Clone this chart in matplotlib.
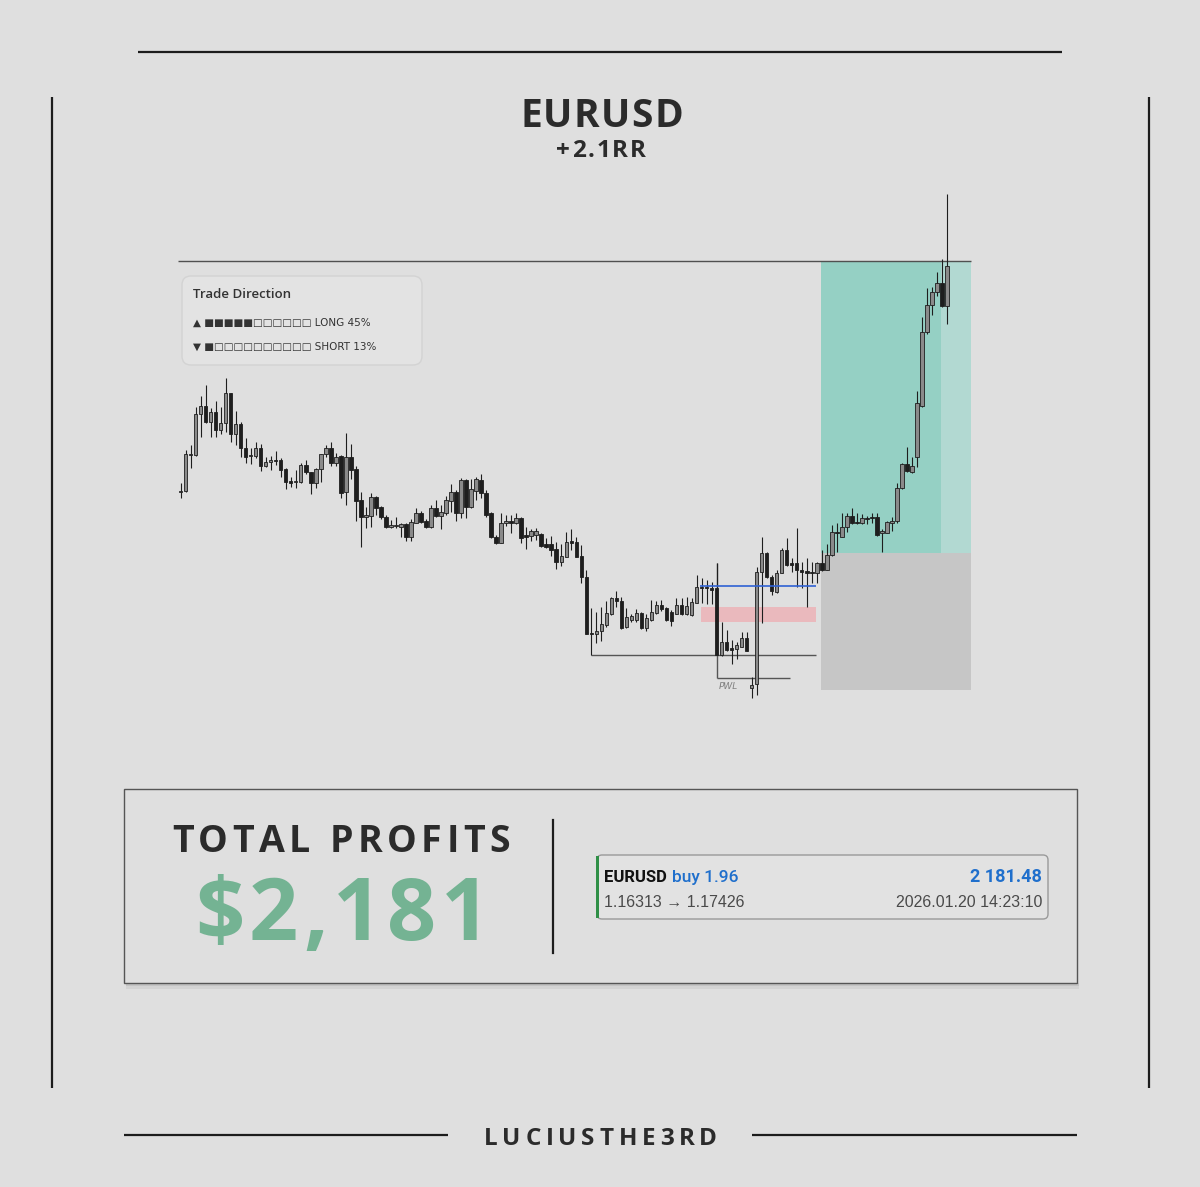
import matplotlib
matplotlib.use("Agg")
import matplotlib.pyplot as plt
from matplotlib.patches import Rectangle, FancyBboxPatch
import numpy as np

# ---------------- data ----------------
symbol = "EURUSD"
rr_label = "+2.1RR"
author = "LUCIUSTHE3RD"
profit_title = "TOTAL PROFITS"
profit_value = "$2,181"

opens = [1.16557, 1.16561, 1.16705, 1.16705, 1.16869, 1.16901, 1.16837, 1.16877, 1.16805, 1.16833,
         1.16953, 1.16789, 1.16829, 1.16733, 1.16701, 1.16701, 1.16733, 1.16661, 1.16677, 1.16685,
         1.16685, 1.16649, 1.16601, 1.16597, 1.16597, 1.16665, 1.16637, 1.16593, 1.16649, 1.16709,
         1.16733, 1.16673, 1.16701, 1.16557, 1.16697, 1.16649, 1.16525, 1.16457, 1.16461, 1.16537,
         1.16497, 1.16457, 1.16417, 1.16421, 1.16417, 1.16429, 1.16377, 1.16433, 1.16473, 1.16441,
         1.16417, 1.16493, 1.16461, 1.16473, 1.16521, 1.16557, 1.16473, 1.16605, 1.16497, 1.16561,
         1.16605, 1.16553, 1.16473, 1.16377, 1.16353, 1.16433, 1.16441, 1.16433, 1.16453, 1.16385,
         1.16381, 1.16385, 1.16389, 1.16349, 1.16349, 1.16329, 1.16277, 1.16297, 1.16361, 1.16357,
         1.16301, 1.16217, 1.15993, 1.15989, 1.16001, 1.16025, 1.16069, 1.16133, 1.16121, 1.16017,
         1.16045, 1.16045, 1.16073, 1.16013, 1.16045, 1.16073, 1.16105, 1.16093, 1.16077, 1.16069,
         1.16105, 1.16069, 1.16065, 1.16113, 1.16177, 1.16177, 1.16173, 1.16173, 1.15905, 1.15957,
         1.15933, 1.15929, 1.15937, 1.15973, 1.15773, 1.15789, 1.16237, 1.16313, 1.16217, 1.16157,
         1.16233, 1.16325, 1.16273, 1.16273, 1.16245, 1.16241, 1.16237, 1.16233, 1.16273, 1.16245,
         1.16305, 1.16397, 1.16377, 1.16417, 1.16461, 1.16437, 1.16433, 1.16453, 1.16457, 1.16457,
         1.16393, 1.16393, 1.16433, 1.16441, 1.16573, 1.16669, 1.16637, 1.16697, 1.16901, 1.17197,
         1.17305, 1.17357, 1.17393, 1.17301]
closes = [1.16561, 1.16709, 1.16709, 1.16869, 1.16901, 1.16837, 1.16877, 1.16805, 1.16833, 1.16953,
          1.16789, 1.16829, 1.16733, 1.16697, 1.16705, 1.16733, 1.16661, 1.16677, 1.16685, 1.16681,
          1.16645, 1.16597, 1.16593, 1.16601, 1.16665, 1.16637, 1.16593, 1.16649, 1.16709, 1.16733,
          1.16673, 1.16697, 1.16553, 1.16697, 1.16645, 1.16521, 1.16457, 1.16465, 1.16537, 1.16493,
          1.16457, 1.16417, 1.16425, 1.16425, 1.16429, 1.16377, 1.16437, 1.16473, 1.16437, 1.16417,
          1.16493, 1.16461, 1.16477, 1.16525, 1.16557, 1.16473, 1.16605, 1.16497, 1.16569, 1.16609,
          1.16553, 1.16465, 1.16377, 1.16353, 1.16433, 1.16441, 1.16433, 1.16453, 1.16373, 1.16377,
          1.16401, 1.16401, 1.16341, 1.16337, 1.16325, 1.16277, 1.16301, 1.16357, 1.16353, 1.16297,
          1.16217, 1.15989, 1.15989, 1.16001, 1.16029, 1.16073, 1.16133, 1.16121, 1.16013, 1.16057,
          1.16061, 1.16073, 1.16013, 1.16053, 1.16077, 1.16105, 1.16089, 1.16045, 1.16041, 1.16105,
          1.16069, 1.16101, 1.16117, 1.16177, 1.16173, 1.16173, 1.16165, 1.15905, 1.15957, 1.15925,
          1.15925, 1.15945, 1.15973, 1.15921, 1.15785, 1.16237, 1.16313, 1.16217, 1.16161, 1.16233,
          1.16325, 1.16265, 1.16265, 1.16245, 1.16237, 1.16233, 1.16233, 1.16273, 1.16245, 1.16305,
          1.16397, 1.16393, 1.16417, 1.16461, 1.16433, 1.16433, 1.16453, 1.16449, 1.16453, 1.16385,
          1.16401, 1.16437, 1.16441, 1.16573, 1.16669, 1.16641, 1.16661, 1.16913, 1.17197, 1.17305,
          1.17357, 1.17393, 1.17301, 1.17461]
highs = [1.16593, 1.16725, 1.16745, 1.16897, 1.16941, 1.16985, 1.16893, 1.16921, 1.16897, 1.17013,
         1.16953, 1.16881, 1.16837, 1.16773, 1.16733, 1.16757, 1.16749, 1.16697, 1.16701, 1.16721,
         1.16693, 1.16653, 1.16617, 1.16645, 1.16673, 1.16685, 1.16637, 1.16653, 1.16709, 1.16745,
         1.16757, 1.16713, 1.16705, 1.16793, 1.16749, 1.16661, 1.16557, 1.16497, 1.16553, 1.16541,
         1.16501, 1.16465, 1.16445, 1.16457, 1.16433, 1.16433, 1.16449, 1.16493, 1.16481, 1.16449,
         1.16505, 1.16525, 1.16505, 1.16541, 1.16589, 1.16565, 1.16613, 1.16609, 1.16609, 1.16617,
         1.16629, 1.16565, 1.16477, 1.16385, 1.16473, 1.16465, 1.16465, 1.16473, 1.16457, 1.16417,
         1.16409, 1.16413, 1.16393, 1.16373, 1.16381, 1.16357, 1.16349, 1.16397, 1.16409, 1.16377,
         1.16345, 1.16245, 1.16093, 1.16077, 1.16097, 1.16121, 1.16137, 1.16161, 1.16137, 1.16093,
         1.16069, 1.16089, 1.16077, 1.16069, 1.16125, 1.16121, 1.16125, 1.16097, 1.16085, 1.16133,
         1.16133, 1.16137, 1.16133, 1.16225, 1.16213, 1.16205, 1.16197, 1.16273, 1.16037, 1.16005,
         1.15965, 1.15957, 1.15997, 1.15997, 1.15817, 1.16257, 1.16377, 1.16317, 1.16225, 1.16245,
         1.16333, 1.16373, 1.16293, 1.16413, 1.16277, 1.16293, 1.16277, 1.16277, 1.16325, 1.16349,
         1.16425, 1.16433, 1.16473, 1.16473, 1.16493, 1.16473, 1.16469, 1.16461, 1.16473, 1.16473,
         1.16409, 1.16441, 1.16457, 1.16593, 1.16673, 1.16737, 1.16697, 1.16961, 1.17257, 1.17373,
         1.17377, 1.17437, 1.17489, 1.17749]
lows = [1.16533, 1.16557, 1.16653, 1.16701, 1.16777, 1.16833, 1.16777, 1.16777, 1.16789, 1.16797,
        1.16757, 1.16745, 1.16697, 1.16673, 1.16669, 1.16693, 1.16641, 1.16657, 1.16645, 1.16665,
        1.16617, 1.16569, 1.16577, 1.16573, 1.16593, 1.16629, 1.16549, 1.16573, 1.16597, 1.16697,
        1.16661, 1.16661, 1.16533, 1.16505, 1.16609, 1.16441, 1.16337, 1.16413, 1.16417, 1.16465,
        1.16449, 1.16413, 1.16413, 1.16413, 1.16377, 1.16361, 1.16361, 1.16433, 1.16433, 1.16413,
        1.16413, 1.16457, 1.16409, 1.16465, 1.16477, 1.16441, 1.16453, 1.16453, 1.16493, 1.16525,
        1.16533, 1.16457, 1.16373, 1.16349, 1.16353, 1.16421, 1.16393, 1.16429, 1.16353, 1.16329,
        1.16361, 1.16365, 1.16337, 1.16333, 1.16301, 1.16249, 1.16261, 1.16297, 1.16325, 1.16297,
        1.16193, 1.15989, 1.15905, 1.15953, 1.15961, 1.16017, 1.16065, 1.16097, 1.16009, 1.16013,
        1.16037, 1.16037, 1.16009, 1.16001, 1.16041, 1.16069, 1.16081, 1.16041, 1.16021, 1.16069,
        1.16065, 1.16065, 1.16061, 1.16113, 1.16113, 1.16109, 1.16109, 1.15905, 1.15901, 1.15921,
        1.15869, 1.15889, 1.15937, 1.15921, 1.15733, 1.15745, 1.16033, 1.16213, 1.16145, 1.16153,
        1.16233, 1.16261, 1.16237, 1.16177, 1.16173, 1.16097, 1.16193, 1.16193, 1.16241, 1.16245,
        1.16301, 1.16317, 1.16377, 1.16397, 1.16429, 1.16429, 1.16429, 1.16429, 1.16433, 1.16381,
        1.16317, 1.16393, 1.16401, 1.16433, 1.16569, 1.16637, 1.16633, 1.16657, 1.16897, 1.17189,
        1.17265, 1.17341, 1.17297, 1.17229]

tp_price = 1.17481
entry_price = 1.16313
sl_price = 1.15765
box_bars = [127.8, 151.8, 157.8]          # start, fade split, end (bar index)
tp_line_from = -0.5
blue_level, blue_bars = 1.16181, [103.7, 126.9]
pink_zone, pink_bars = [1.16037, 1.16097], [103.9, 126.9]
low_level, low_bars = 1.15905, [81.9, 126.9]
pwl_level, pwl_top, pwl_bars = 1.15813, 1.16273, [107.0, 121.7]

direction_labels = ["LONG 45%", "SHORT 13%"]
direction_filled = [5, 1]
direction_blocks = 11

deal_symbol = "EURUSD"
deal_side = "buy 1.96"
deal_profit = "2 181.48"
deal_prices = "1.16313 \u2192 1.17426"
deal_time = "2026.01.20 14:23:10"

# ---------------- figure ----------------
BG = "#dfdfdf"
fig = plt.figure(figsize=(12, 11.87), dpi=100, facecolor=BG)
ov = fig.add_axes([0, 0, 1, 1])
ov.set_xlim(0, 1200)
ov.set_ylim(1187, 0)
ov.axis("off")

LINE = "#1c1c1c"
# frame lines
ov.plot([138, 1062], [52, 52], color=LINE, lw=1.6, solid_capstyle="butt")
ov.plot([52, 52], [97, 1088], color=LINE, lw=1.6, solid_capstyle="butt")
ov.plot([1149, 1149], [97, 1088], color=LINE, lw=1.6, solid_capstyle="butt")
ov.plot([124, 448], [1135, 1135], color=LINE, lw=1.6, solid_capstyle="butt")
ov.plot([752, 1077], [1135, 1135], color=LINE, lw=1.6, solid_capstyle="butt")

renderer = fig.canvas.get_renderer()


def spaced_text(s, cx, baseline, size, width, color, family="Open Sans", weight="bold"):
    ts, ws = [], []
    for ch in s:
        t = ov.text(0, baseline, ch, fontsize=size, color=color, family=family,
                    weight=weight, ha="left", va="baseline")
        w = t.get_window_extent(renderer).width if ch.strip() else size * 1.389 * 0.28
        ts.append(t)
        ws.append(w)
    gap = (width - sum(ws)) / (len(s) - 1)
    x = cx - width / 2
    for t, w in zip(ts, ws):
        t.set_x(x)
        x += w + gap


TXT = "#2b2b2b"
spaced_text(symbol, 601.5, 127, 28, 163, TXT)
spaced_text(rr_label, 601, 157, 17.5, 90, TXT)
spaced_text(author, 600.5, 1145, 17.5, 233, TXT)

# ---------------- chart ----------------
ax = fig.add_axes([170 / 1200, 1 - 710 / 1187, 810 / 1200, 530 / 1187])
ax.set_xlim(-2.096, 159.58)
ax.set_ylim(1.15685, 1.17805)
ax.axis("off")
ax.patch.set_alpha(0)

o = np.array(opens)
c = np.array(closes)
h = np.array(highs)
l = np.array(lows)
x = np.arange(len(o))
bull = c > o

# position tool
ax.add_patch(Rectangle((box_bars[0], entry_price), box_bars[1] - box_bars[0], tp_price - entry_price,
                       fc="#95d0c4", ec="none", zorder=1))
ax.add_patch(Rectangle((box_bars[1], entry_price), box_bars[2] - box_bars[1], tp_price - entry_price,
                       fc="#b2d9d2", ec="none", zorder=1))
ax.add_patch(Rectangle((box_bars[0], sl_price), box_bars[2] - box_bars[0], entry_price - sl_price,
                       fc="#c6c6c6", ec="none", zorder=1))
ax.hlines(tp_price, tp_line_from, box_bars[2], color="#505050", lw=1.0, zorder=2)

# zones and levels
ax.add_patch(Rectangle((pink_bars[0], pink_zone[0]), pink_bars[1] - pink_bars[0], pink_zone[1] - pink_zone[0],
                       fc="#eab9bd", ec="none", zorder=2))
ax.hlines(low_level, low_bars[0], low_bars[1], color="#555555", lw=1.0, zorder=2)
ax.vlines(pwl_bars[0], pwl_level, pwl_top, color="#555555", lw=1.0, zorder=2)
ax.hlines(pwl_level, pwl_bars[0], pwl_bars[1], color="#555555", lw=1.0, zorder=2)
ax.text(pwl_bars[0] + 0.4, pwl_level - 0.00033, "PWL", fontsize=6.5, style="italic",
        color="#808080", ha="left", va="center", zorder=3)

# candles
ax.vlines(x, l, h, color="#1e1e1e", lw=0.8, zorder=3)
bottoms = np.minimum(o, c)
heights = np.maximum(np.abs(c - o), 0.00003)
ax.bar(x, heights, 0.7, bottom=bottoms, color=np.where(bull, "#8a8a8a", "#1e1e1e"),
       edgecolor="#1e1e1e", linewidth=0.6, zorder=4)
ax.hlines(blue_level, blue_bars[0], blue_bars[1], color="#2f62d4", lw=1.2, zorder=5)

# ---------------- trade direction panel ----------------
ov.add_patch(FancyBboxPatch((182, 276), 240, 89, boxstyle="round,pad=0,rounding_size=9",
                            fc="#e3e3e3", ec="#d3d3d3", lw=1.0, zorder=6))
ov.text(193, 298, "Trade Direction", fontsize=9.5, color="#333333", family="Open Sans",
        weight="semibold", ha="left", va="baseline", zorder=7)
arrows = ["\u25B2", "\u25BC"]
for i, (lab, nf) in enumerate(zip(direction_labels, direction_filled)):
    yb = 326 + 24 * i
    bars = "\u25A0" * nf + "\u25A1" * (direction_blocks - nf)
    ov.text(193, yb, arrows[i] + " " + bars + " " + lab, fontsize=7.5, color="#333333",
            family=["DejaVu Sans"], ha="left", va="baseline", zorder=7)

# ---------------- profits panel ----------------
ov.add_patch(Rectangle((126, 983), 953, 3, fc="#000000", alpha=0.12, ec="none", zorder=1))
ov.add_patch(Rectangle((126, 986), 953, 3, fc="#000000", alpha=0.05, ec="none", zorder=1))
ov.add_patch(Rectangle((124, 789), 953, 194, fc=BG, ec="#555555", lw=1.0, zorder=2))
spaced_text(profit_title, 341, 852, 27, 338, TXT)
spaced_text(profit_value, 342.5, 940, 62, 295, "#74b393")
ov.plot([553, 553], [820, 953], color=LINE, lw=1.6, zorder=3)

# deal card
ov.add_patch(FancyBboxPatch((597, 855), 451, 64, boxstyle="round,pad=0,rounding_size=5",
                            fc="#e2e2e2", ec="#9a9a9a", lw=1.0, zorder=3))
ov.add_patch(Rectangle((596, 856), 3, 62, fc="#2f8f46", ec="none", zorder=4))
t_sym = ov.text(604, 882, deal_symbol, fontsize=12, weight="bold", color="#111111", family="Roboto",
                ha="left", va="baseline", zorder=5)
sym_w = t_sym.get_window_extent(renderer).width
ov.text(604 + sym_w + 5, 882, deal_side, fontsize=12.5, weight="medium", color="#1f6fcc", family="Roboto",
        ha="left", va="baseline", zorder=5)
ov.text(1042, 882, deal_profit, fontsize=13, weight="bold", color="#1f6fcc", family="Roboto",
        ha="right", va="baseline", zorder=5)
ov.text(604, 907, deal_prices, fontsize=11.5, color="#4a4a4a", family=["Liberation Sans", "DejaVu Sans"],
        ha="left", va="baseline", zorder=5)
ov.text(1042, 907, deal_time, fontsize=11.5, color="#4a4a4a", family=["Liberation Sans", "DejaVu Sans"],
        ha="right", va="baseline", zorder=5)

fig.savefig("out.png", dpi=100, facecolor=BG)
